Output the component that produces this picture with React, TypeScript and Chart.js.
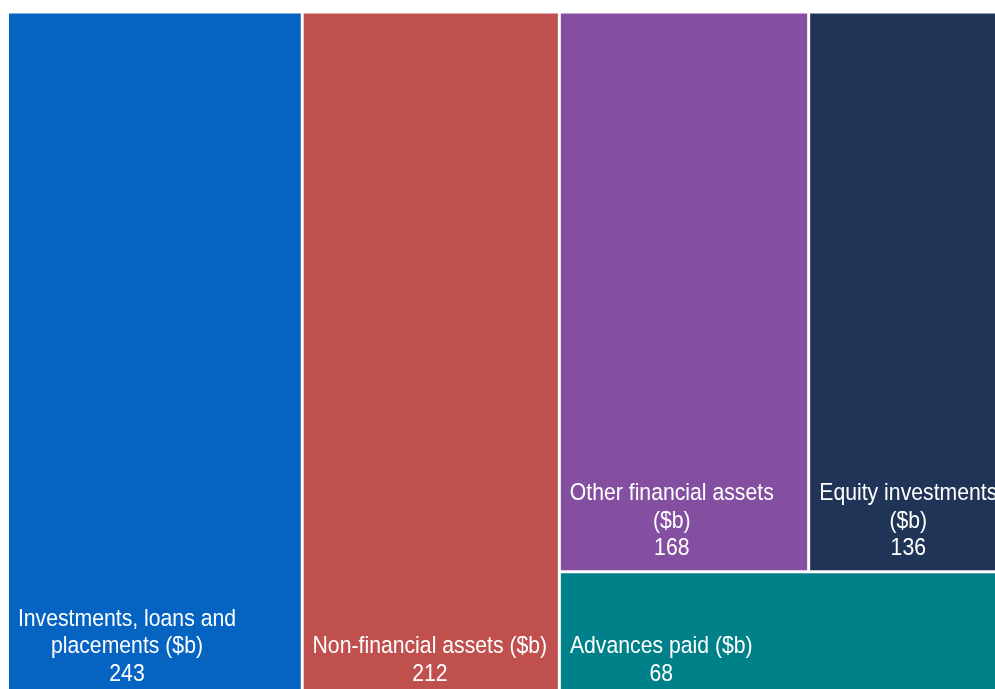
import React, { useEffect, useRef } from "react";
import { Chart, registerables } from "chart.js";

Chart.register(...registerables);

const labels = [
  "Investments, loans and placements ($b)",
  "Non-financial assets ($b)",
  "Other financial assets ($b)",
  "Equity investments ($b)",
  "Advances paid ($b)",
];
const values = [243, 212, 168, 136, 68];
const colors = ["#0563C1", "#C0504D", "#844FA0", "#1F3456", "#00818A"];

type Cell = { i: number; x0: number; y0: number; x1: number; y1: number };

// squarified grouping (golden ratio), strips diced horizontally
function layoutTree(vals: number[], aspect: number): Cell[] {
  const n = vals.length;
  const order = vals.map((_, i) => i).sort((a, b) => vals[b] - vals[a]);
  let value = vals.reduce((a, b) => a + b, 0);
  let x0 = 0, y0 = 0, x1 = aspect, y1 = 1;
  const ratio = (1 + Math.sqrt(5)) / 2;
  const out: Cell[] = [];
  let i0 = 0;
  while (i0 < n) {
    const dx = x1 - x0, dy = y1 - y0;
    let i1 = i0;
    let s = vals[order[i1++]];
    let mn = s, mx = s;
    const alpha = Math.max(dy / dx, dx / dy) / (value * ratio);
    let beta = s * s * alpha;
    let minRatio = Math.max(mx / beta, beta / mn);
    for (; i1 < n; i1++) {
      const v = vals[order[i1]];
      const s2 = s + v;
      const mn2 = Math.min(mn, v), mx2 = Math.max(mx, v);
      beta = s2 * s2 * alpha;
      const r = Math.max(mx2 / beta, beta / mn2);
      if (r > minRatio) break;
      s = s2; mn = mn2; mx = mx2; minRatio = r;
    }
    const row = order.slice(i0, i1);
    if (dx >= dy) {
      const w = (dx * s) / value;
      let cx = x0;
      row.forEach((k) => {
        const cw = (w * vals[k]) / s;
        out.push({ i: k, x0: cx, y0, x1: cx + cw, y1 });
        cx += cw;
      });
      x0 += w;
    } else {
      const h = (dy * s) / value;
      let cx = x0;
      row.forEach((k) => {
        const cw = (dx * vals[k]) / s;
        out.push({ i: k, x0: cx, y0, x1: cx + cw, y1: y0 + h });
        cx += cw;
      });
      y0 += h;
    }
    value -= s;
    i0 = i1;
  }
  return out.map((c) => ({ ...c, x0: c.x0 / aspect, x1: c.x1 / aspect }));
}

const FONT = '21px "Liberation Sans", Arial, sans-serif';

const treemapPlugin = {
  id: "treemapDraw",
  afterDatasetsDraw(chart: any) {
    const { ctx, chartArea, scales } = chart;
    const xs = scales.x, ys = scales.y;
    const aspect = (chartArea.right - chartArea.left) / (chartArea.bottom - chartArea.top);
    const cells = layoutTree(values, aspect);
    const gap = 1.5;
    ctx.save();
    cells.forEach((c) => {
      const l = xs.getPixelForValue(c.x0) + gap;
      const r = xs.getPixelForValue(c.x1) - gap;
      const t = ys.getPixelForValue(c.y0) + gap;
      const b = ys.getPixelForValue(c.y1) - gap;
      ctx.fillStyle = colors[c.i];
      ctx.fillRect(l, t, r - l, b - t);

      ctx.font = FONT;
      const pad = 9.5;
      const maxW = r - l - pad;
      const words = labels[c.i].split(" ");
      const lines: string[] = [];
      let cur = "";
      words.forEach((w) => {
        const test = cur ? cur + " " + w : w;
        if (cur && ctx.measureText(test).width > maxW) {
          lines.push(cur);
          cur = w;
        } else cur = test;
      });
      if (cur) lines.push(cur);
      lines.push(String(values[c.i]));
      const blockW = Math.max(...lines.map((s) => ctx.measureText(s).width));
      const cx = l + pad + 0.5 + blockW / 2;
      ctx.fillStyle = "#ffffff";
      ctx.textAlign = "center";
      ctx.textBaseline = "alphabetic";
      const lh = 27.5;
      lines.forEach((s, k) => {
        const y = b - 15 - (lines.length - 1 - k) * lh;
        ctx.save();
        ctx.translate(cx, y);
        ctx.scale(1.01, 1.13);
        ctx.fillText(s, 0, 0);
        ctx.restore();
      });
    });
    ctx.restore();
  },
};

export default function App() {
  const ref = useRef<HTMLCanvasElement | null>(null);
  useEffect(() => {
    if (!ref.current) return;
    const chart = new Chart(ref.current, {
      type: "scatter",
      data: { datasets: [{ data: [] as any[] }] },
      options: {
        animation: false,
        responsive: false,
        devicePixelRatio: 1,
        layout: { padding: { left: 7.5, top: 12, right: 4.5, bottom: 3 } },
        plugins: { legend: { display: false }, tooltip: { enabled: false } },
        scales: {
          x: { type: "linear", min: 0, max: 1, display: false },
          y: { type: "linear", min: 0, max: 1, reverse: true, display: false },
        },
      },
      plugins: [treemapPlugin],
    });
    return () => chart.destroy();
  }, []);
  return (
    <div
      style={{
        position: "fixed",
        left: 0,
        top: 0,
        width: "100vw",
        height: "100vh",
        overflow: "hidden",
        background: "#ffffff",
      }}
    >
      <canvas ref={ref} width={1015} height={700} style={{ display: "block" }} />
    </div>
  );
}
